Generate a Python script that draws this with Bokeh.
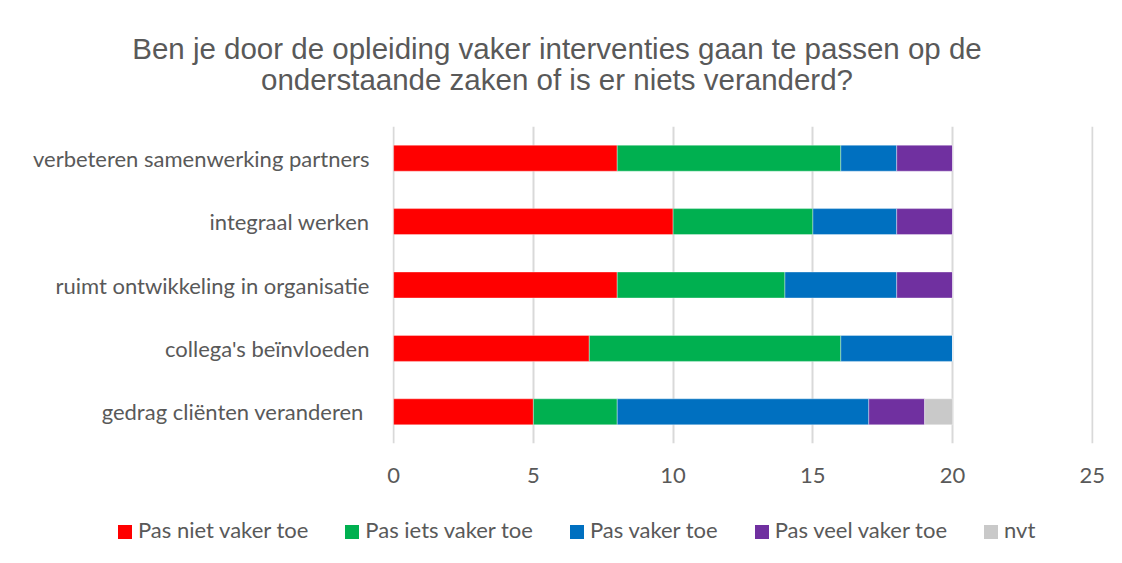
from bokeh.plotting import figure
from bokeh.models import ColumnDataSource, FactorRange, Range1d, FixedTicker, Div
from bokeh.layouts import column
from bokeh.embed import file_html
from bokeh.resources import INLINE

categories = ["verbeteren samenwerking partners", "integraal werken",
              "ruimt ontwikkeling in organisatie", "collega's beïnvloeden",
              "gedrag cliënten  veranderen"]
series = ["Pas niet vaker toe", "Pas iets vaker toe", "Pas vaker toe", "Pas veel vaker toe", "nvt"]
niet = [8, 10, 8, 7, 5]
iets = [8, 5, 6, 9, 3]
vaker = [2, 3, 4, 4, 9]
veel = [2, 2, 2, 0, 2]
nvt = [0, 0, 0, 0, 1]
colors = ["#FF0000", "#00B050", "#0070C0", "#7030A0", "#C9C9C9"]
x_ticks = [0, 5, 10, 15, 20, 25]
title_lines = ["Ben je door de opleiding vaker interventies gaan te passen op de",
               "onderstaande zaken of is er niets veranderd?"]

src = ColumnDataSource(dict(cat=categories, niet=niet, iets=iets, vaker=vaker, veel=veel, nvt=nvt))
keys = ["niet", "iets", "vaker", "veel", "nvt"]

title = Div(text="<div style='width:1084px;text-align:center;padding-left:30px;padding-top:33px;"
                 "font-family:\"Liberation Sans\",Arial,sans-serif;font-size:29.5px;line-height:31px;"
                 "color:#595959;white-space:nowrap'>" + "<br>".join(title_lines) + "</div>",
            width=1114, height=118, margin=0)

p = figure(frame_width=701, frame_height=317, output_backend="svg", toolbar_location=None,
           y_range=FactorRange(*reversed(categories), range_padding=0),
           x_range=Range1d(-0.04, 25.04),
           min_border_left=392, min_border_right=21, min_border_top=8, min_border_bottom=60)

renderers = p.hbar_stack(keys, y="cat", height=0.41, color=colors, source=src,
                         line_color="white", line_width=0.6, line_alpha=0.6)

p.outline_line_color = None
p.ygrid.grid_line_color = None
p.xgrid.grid_line_color = "#D9D9D9"
p.xgrid.grid_line_width = 2
p.xaxis.ticker = FixedTicker(ticks=x_ticks)
for ax in (p.xaxis[0], p.yaxis[0]):
    ax.axis_line_color = None
    ax.major_tick_line_color = None
    ax.minor_tick_line_color = None
    ax.major_label_text_font = "Lato"
    ax.major_label_text_font_size = "22px"
    ax.major_label_text_color = "#595959"
p.xaxis.major_label_standoff = 18
p.yaxis.major_label_standoff = 17

# legend row below the chart, built from the series names and colours
items_html = "".join(
    "<span style='display:inline-block;width:14px;height:14px;background:%s;"
    "margin-right:6px;vertical-align:-1px'></span>"
    "<span style='margin-right:37px'>%s</span>" % (c, s)
    for s, c in zip(series, colors))
legend_div = Div(text="<div style='padding-left:118px;padding-top:12px;font-family:Lato,sans-serif;"
                      "font-size:22px;line-height:30px;color:#595959;white-space:nowrap'>"
                      + items_html + "</div>",
                 width=1114, height=50, margin=0)

layout = column(title, p, legend_div, spacing=0)
open("out.html", "w").write(file_html(layout, INLINE))
